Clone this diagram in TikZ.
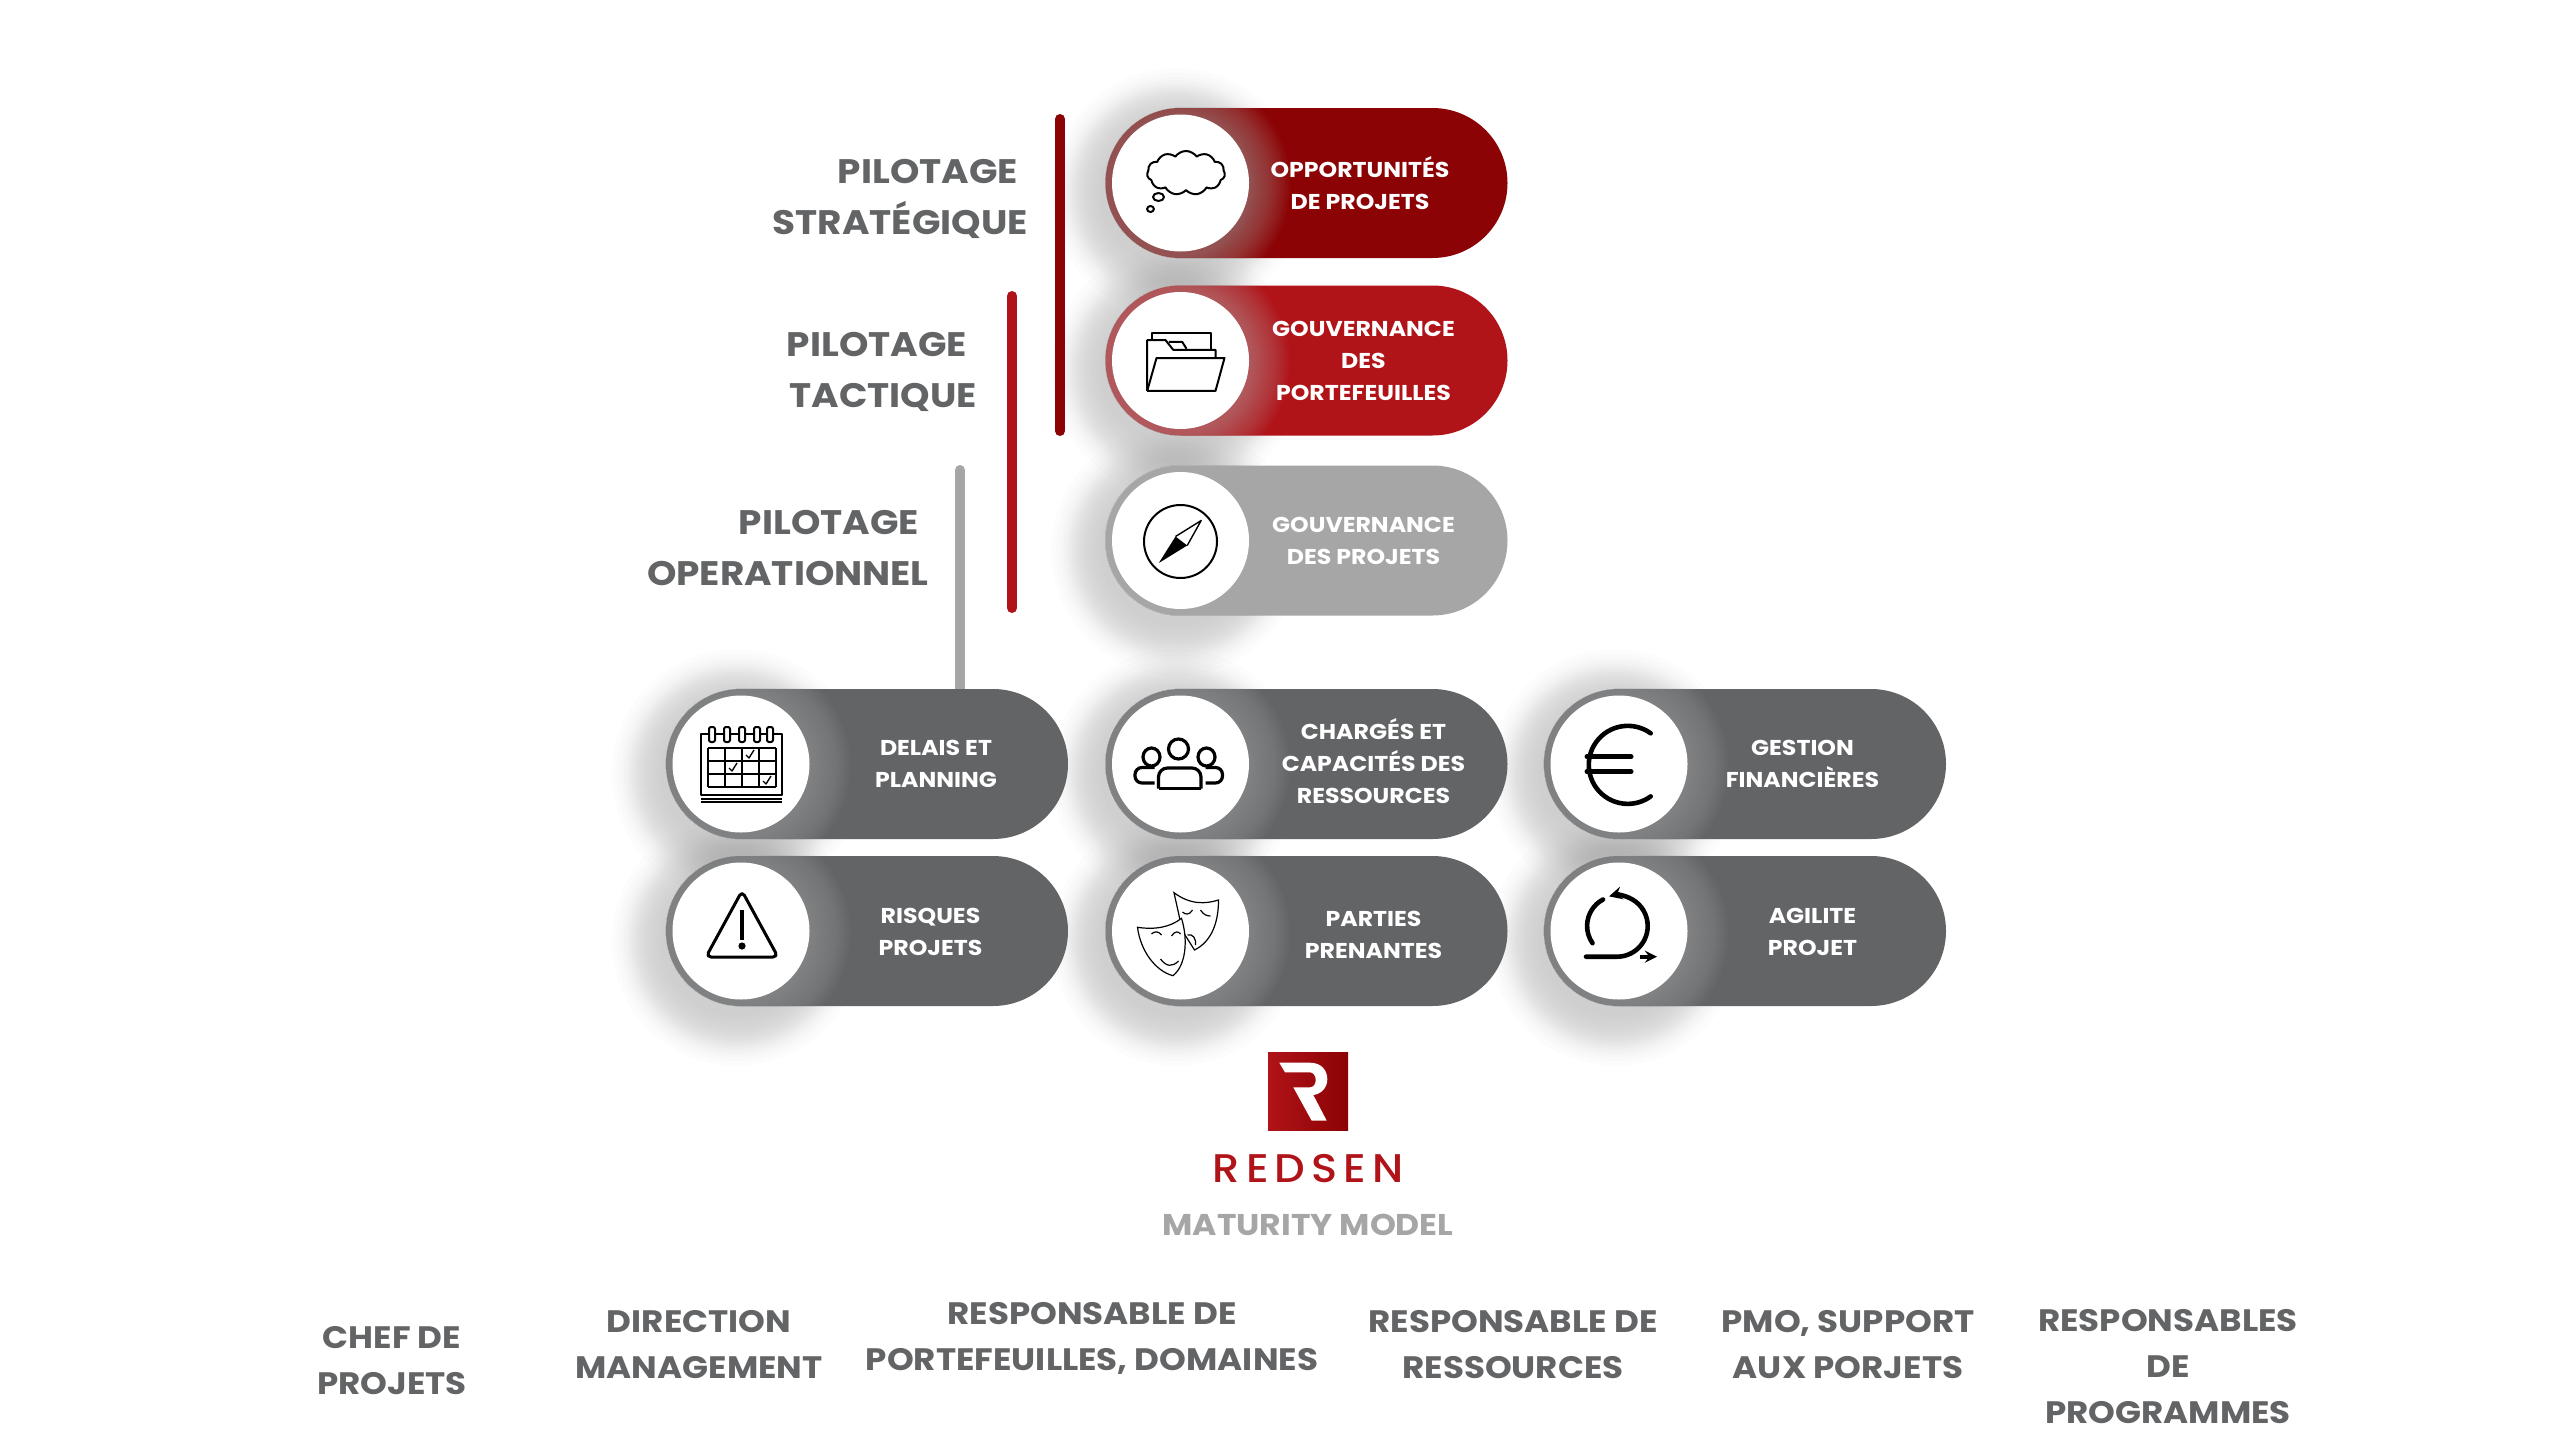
\documentclass[tikz,border=0pt]{standalone}
\usepackage{fontspec}
\setmainfont{Poppins}[FakeStretch=1.1]
\newfontfamily\rsmedium{Poppins Medium}[FakeStretch=1.08, LetterSpace=15]
\usetikzlibrary{arrows, calc, positioning, shapes.symbols}
\pgfdeclarelayer{bg1}
\pgfsetlayers{bg1,main}
\definecolor{rsdark}{HTML}{8B0304}
\definecolor{rsred}{HTML}{B01318}
\definecolor{rslight}{HTML}{A6A6A6}
\definecolor{rsgray}{HTML}{636466}
\tikzset{
	pill/.style = {rectangle, rounded corners=75pt, minimum width = 402pt, minimum height = 150pt, inner sep = 0pt},
	disc/.style = {circle, minimum size = 137pt, inner sep = 0pt, fill = white},
	pilltext/.style = {text = white, align = center, inner sep = 0pt, font = {\fontsize{21.5pt}{32pt}\selectfont\bfseries}},
	bigtext/.style = {text = rsgray, align = right, anchor = east, inner sep = 0pt, font = {\fontsize{34pt}{51pt}\selectfont\bfseries}},
	roletext/.style = {text = rsgray, align = center, inner sep = 0pt, font = {\fontsize{31pt}{46pt}\selectfont\bfseries}},
	bar/.style = {line width = 10pt, line cap = round},
	icon/.style = {draw = black, line width = 2pt, line join = round},
	glowin/.style = {fill = black!30, opacity = 0.032},
	glowout/.style = {fill = black!45, opacity = 0.024}
}
% pill with its white disc: name, position, colour
\newcommand{\pillbox}[3]{
	\node (#1) [pill, fill = #3] at (#2) {};
	\begin{pgfonlayer}{bg1}
	\foreach \r in {76,80,84,87,90,92,94,96,98,100,102,104,106,108,110,113,116,120,125} \fill[glowout] ($(#1.west)+(71,10)$) circle[radius=\r pt];
	\end{pgfonlayer}
	\begin{scope}
	\clip[rounded corners=75pt] (#1.south west) rectangle (#1.north east);
	\foreach \r in {72,74,...,112} \fill[glowin] ($(#1.west)+(73,2)$) circle[radius=\r pt];
	\end{scope}
	\node (#1-ic) [disc, right of = #1, xshift = -126pt] {};
}

\begin{document}
\begin{tikzpicture}[x=1pt, y=-1pt, node distance=0pt]
	\useasboundingbox (0,0) rectangle (2560,1440);
	\begin{pgfonlayer}{bg1}
	\fill[white] (0,0) rectangle (2560,1440);
	\end{pgfonlayer}

	%%%%%%%% pills %%%%%%%%
	\pillbox{opport}{1306.5,183}{rsdark}
	\pillbox{gouvport}{1306.5,360.5}{rsred}
	\pillbox{gouvproj}{1306.5,540.5}{rslight}
	\pillbox{delais}{867,764}{rsgray}
	\pillbox{risques}{867,931}{rsgray}
	\pillbox{charges}{1306.5,764}{rsgray}
	\pillbox{parties}{1306.5,931}{rsgray}
	\pillbox{gestion}{1745,764}{rsgray}
	\pillbox{agilite}{1745,931}{rsgray}

	% pill labels
	\node (opport-t) [pilltext, right of = opport, xshift = 53.5pt] {OPPORTUNITÉS\\DE PROJETS};
	\node (gouvport-t) [pilltext, right of = gouvport, xshift = 57pt] {GOUVERNANCE\\DES\\PORTEFEUILLES};
	\node (gouvproj-t) [pilltext, right of = gouvproj, xshift = 57pt] {GOUVERNANCE\\DES PROJETS};
	\node (delais-t) [pilltext, right of = delais, xshift = 69pt] {DELAIS ET\\PLANNING};
	\node (risques-t) [pilltext, right of = risques, xshift = 63.5pt, yshift = -1pt] {RISQUES\\PROJETS};
	\node (charges-t) [pilltext, right of = charges, xshift = 67pt, yshift = 2.5pt] {CHARGÉS ET\\CAPACITÉS DES\\RESSOURCES};
	\node (parties-t) [pilltext, right of = parties, xshift = 67pt, yshift = -4pt] {PARTIES\\PRENANTES};
	\node (gestion-t) [pilltext, right of = gestion, xshift = 57.5pt] {GESTION\\FINANCIÈRES};
	\node (agilite-t) [pilltext, right of = agilite, xshift = 67.5pt, yshift = -1pt] {AGILITE\\PROJET};

	%%% bars %%%
	\coordinate (bar1a) at (1060,119);
	\coordinate (bar1b) at (1060,431);
	\coordinate (bar2a) at (1012,296);
	\coordinate (bar2b) at (1012,608);
	\coordinate (bar3a) at (960,470);
	\draw [bar, rsdark] (bar1a) -- (bar1b);
	\draw [bar, rsred] (bar2a) -- (bar2b);
	\begin{pgfonlayer}{bg1}
	\draw [bar, rslight] (bar3a) -- (bar3a |- delais.north);
	\end{pgfonlayer}

	% big labels
	\node (strat) [bigtext] at (1028,199) {PILOTAGE\hspace*{10pt}\\STRATÉGIQUE};
	\node (tact) [bigtext] at (977,371.5) {PILOTAGE\hspace*{10pt}\\TACTIQUE};
	\node (oper) [bigtext] at (929,548) {PILOTAGE\hspace*{10pt}\\OPERATIONNEL};

	%%% icons %%%
	% cloud
	\begin{scope}[shift={(opport-ic)}]
	\node (cloudic) [cloud, icon, cloud puffs = 11, cloud puff arc = 110, minimum width = 78pt, minimum height = 44pt, inner sep = 0pt] at (5.5,-10) {};
	\draw[icon] (-22,14) circle[x radius=5.5, y radius=4];
	\draw[icon] (-30,26) circle[x radius=3.4, y radius=3];
	\end{scope}
	% folder
	\begin{scope}[shift={(gouvport-ic)}]
	\draw[icon] (-28.3,-20) -- (-28.3,-27.9) -- (30.7,-27.9) -- (30.7,-10.7);
	\draw[icon] (-33.3,30.4) -- (-33.3,-20.4) -- (-15,-20.4) -- (-7.3,-10.7) -- (35,-10.7) -- (35,-2.5);
	\draw[icon] (-11.7,-18.6) -- (1.7,-18.6) -- (6,-11.8);
	\draw[icon] (-33.3,30.4) -- (35,30.4) -- (44,-2.5) -- (-24,-2.5) -- (-33.3,30.4);
	\end{scope}
	% compass
	\begin{scope}[shift={(gouvproj-ic)}]
	\draw[icon] (0,1) circle[radius=36.5pt];
	\draw[icon, line width=1.4pt] (-5,-4) -- (20.7,-20) -- (6.7,5);
	\fill[black] (-21.7,22.5) -- (-5,-4) -- (6.7,5) -- cycle;
	\end{scope}
	% calendar
	\begin{scope}[shift={(delais-ic)}]
	\draw[icon] (-40,31) -- (-40,-30) -- (41,-30) -- (41,31) -- cycle;
	\draw[icon] (-40,34.5) -- (41,34.5) (-40,38) -- (41,38);
	\foreach \x in {-33.5,-16.5,0.5,17.5,34.5} \draw[icon] (\x,-15.7) -- (\x,23.3);
	\foreach \y in {-15.7,-2.7,10.3,23.3} \draw[icon] (-33.5,\y) -- (34.5,\y);
	\foreach \x in {-29,-14,1,16,29} \draw[icon, fill=white, rounded corners=2pt] (\x-3,-22) rectangle (\x+3,-37);
	\foreach \x/\y in {9/-9,-8/4,26/17} \draw[icon, line width=1.4pt] (\x-4,\y) -- (\x-1,\y+3) -- (\x+4,\y-5);
	\end{scope}
	% warning
	\begin{scope}[shift={(risques-ic)}]
	\draw[icon, line width=3pt, rounded corners=5pt] (1,-40) -- (37,26) -- (-35,26) -- cycle;
	\draw[icon, line width=3.6pt] (1,-21) -- (1,9);
	\fill[black] (1,15) circle[radius=3.6pt];
	\end{scope}
	% people
	\begin{scope}[shift={(charges-ic)}]
	\draw[icon, line width=3.2pt] (-2,-15) circle[radius=10pt];
	\draw[icon, line width=3.2pt] (-29,-7) circle[x radius=8.5, y radius=9];
	\draw[icon, line width=3.2pt] (26,-7) circle[x radius=8.5, y radius=9];
	\draw[icon, line width=3.2pt, rounded corners=9pt] (-22,24.5) -- (-22,4) -- (20.5,4) -- (20.5,24.5);
	\draw[icon, line width=3.2pt] (-22,24.5) -- (20.5,24.5);
	\draw[icon, line width=3.2pt, rounded corners=7pt] (-26,19) -- (-45.5,19) -- (-45.5,3.5) -- (-26,3.5);
	\draw[icon, line width=3.2pt, rounded corners=7pt] (25,19) -- (42,19) -- (42,3.5) -- (25,3.5);
	\end{scope}
	% masks
	\begin{scope}[shift={(parties-ic)}, line width=1.2pt]
	\draw[fill=white] (-6.5,-38.3) .. controls (10,-26) and (25,-27) .. (38,-31) .. controls (38,-10) and (32,10) .. (14,19) -- (2,0) -- cycle;
	\draw[fill=white] (-43,-3.7) .. controls (-25,-1) and (-10,-4) .. (1,-12.7) .. controls (8,10) and (5,35) .. (-7.6,44.7) .. controls (-25,40) and (-40,20) .. (-43,-3.7) -- cycle;
	\draw (-29,3) .. controls (-26,0) and (-22,0) .. (-19,4);
	\draw (-9,5) .. controls (-6,0) and (-2,0) .. (0,3);
	\draw (-20,28) .. controls (-14,36) and (-8,36) .. (-2,30);
	\draw (2,-19) .. controls (5,-16) and (9,-16) .. (12,-21);
	\draw (20,-21) .. controls (23,-16) and (27,-15) .. (30,-15);
	\draw (7,4) .. controls (12,2) and (16,8) .. (15,14);
	\end{scope}
	% euro
	\begin{scope}[shift={(gestion-ic)}]
	\draw[icon, line width=4.6pt, line cap=round] (31.7,-30.7) arc[start angle=54, end angle=306, radius=39pt];
	\draw[icon, line width=5pt, line cap=round] (-32,-7.3) -- (12,-7.3);
	\draw[icon, line width=5pt, line cap=round] (-32,7.7) -- (12,7.7);
	\end{scope}
	% agile
	\begin{scope}[shift={(agilite-ic)}, >=stealth]
	\draw[icon, line width=4.6pt, line cap=round, ->] (-33,25.7) -- (-2,25.7) arc[start angle=-90, end angle=105, radius=30.7pt];
	\draw[icon, line width=4.6pt, line cap=round] (-16,-31.5) arc[start angle=118, end angle=215, radius=30pt];
	\draw[icon, line width=4.2pt, ->] (21,25.7) -- (38,25.7);
	\end{scope}

	%%% logo %%%
	\node (logo) [rectangle, minimum width = 80pt, minimum height = 78pt, inner sep = 0pt, left color = rsred, right color = rsdark] at (1308,1091) {};
	\fill[white] (1279.3,1062.7) -- (1310,1062.7) .. controls (1321,1062.7) and (1327.3,1070) .. (1327.3,1079.3) .. controls (1327.3,1088) and (1321,1094) .. (1313.3,1095) -- (1326.7,1120.7) -- (1311.7,1120.7) -- (1293.3,1087.3) -- (1310,1087.3) .. controls (1313.5,1087.3) and (1315.7,1084) .. (1315.7,1080) .. controls (1315.7,1076) and (1313.5,1072.3) .. (1310,1072.3) -- (1285,1072.3) -- cycle;
	\node (redsen) [below of = logo, yshift = -78pt, text = rsred, inner sep = 0pt, font = {\fontsize{40pt}{44pt}\selectfont\rsmedium}] {REDSEN};
	\node (maturity) [below of = redsen, yshift = -56pt, text = rslight, inner sep = 0pt, font = {\fontsize{30pt}{34pt}\selectfont\bfseries}] {MATURITY MODEL};

	%%% roles %%%
	\node (chef) [roletext] at (392,1361) {CHEF DE\\PROJETS};
	\node (direction) [roletext] at (699,1345) {DIRECTION\\MANAGEMENT};
	\node (respport) [roletext] at (1092,1338) {RESPONSABLE DE\\PORTEFEUILLES, DOMAINES};
	\node (respres) [roletext] at (1513,1345) {RESPONSABLE DE\\RESSOURCES};
	\node (pmo) [roletext] at (1848,1345) {PMO, SUPPORT\\AUX PORJETS};
	\node (respprog) [roletext] at (2168,1367) {RESPONSABLES\\DE\\PROGRAMMES};
\end{tikzpicture}
\end{document}
